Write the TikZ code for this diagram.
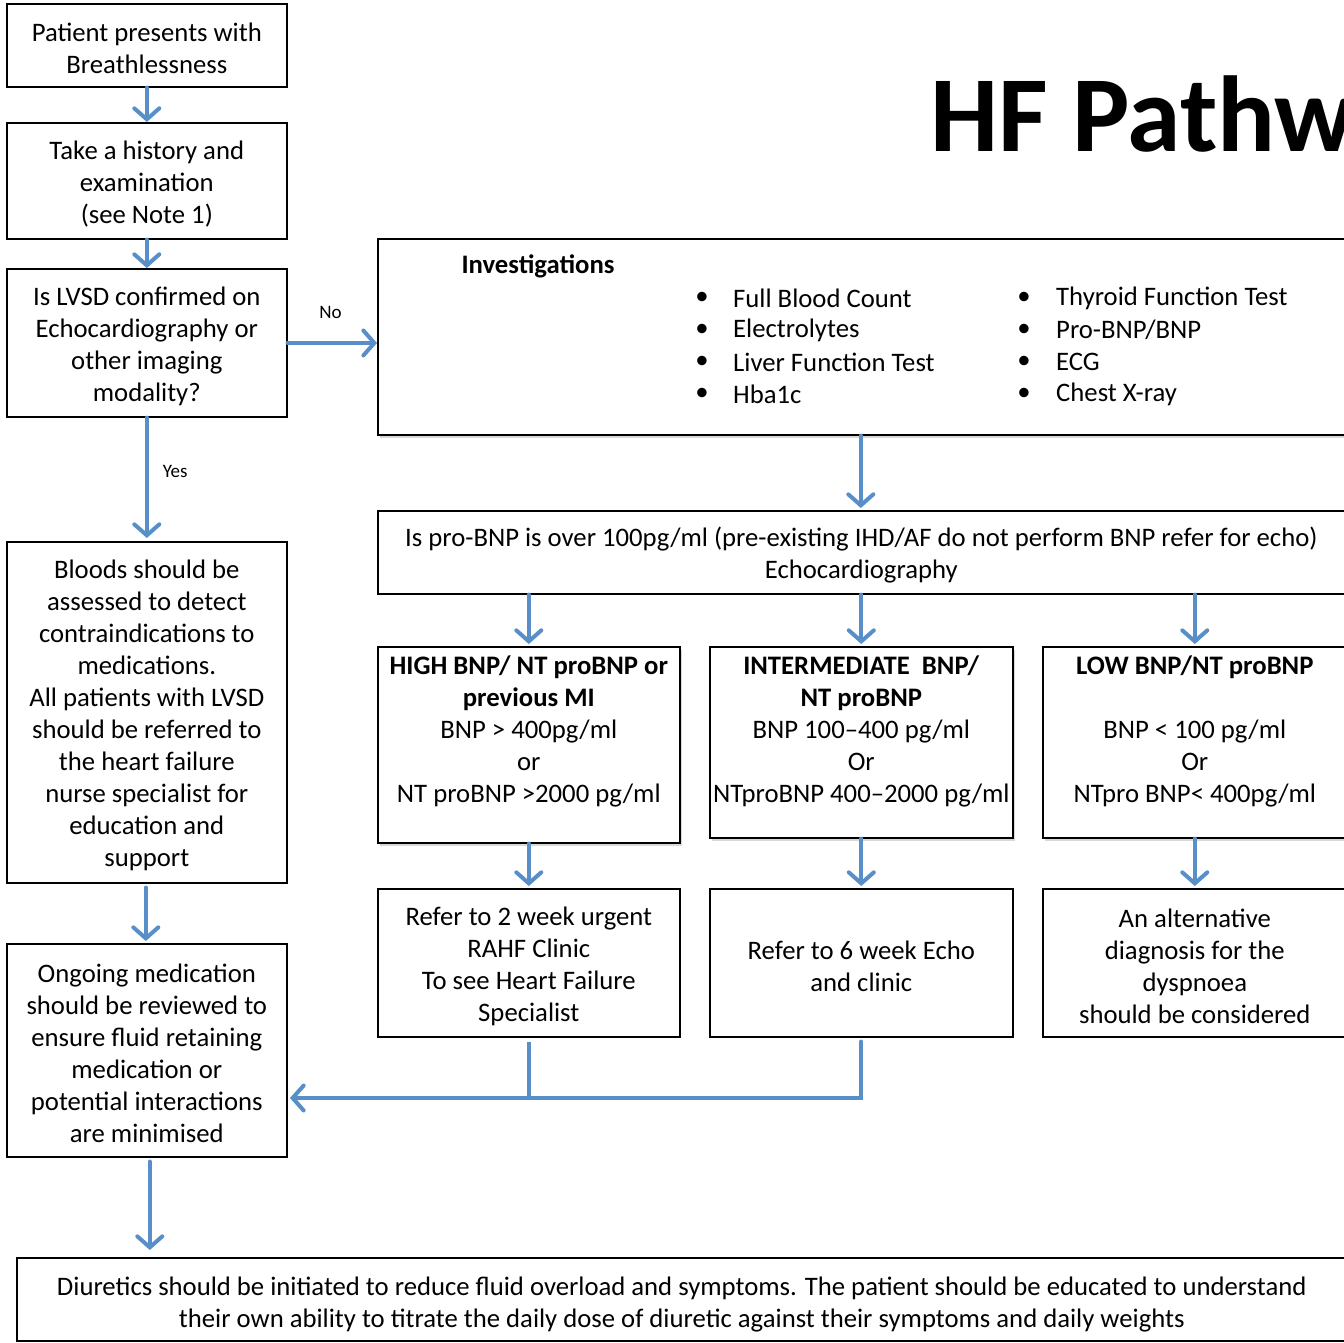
\documentclass[tikz,border=0pt]{standalone}
\usepackage{fontspec}
\setmainfont{Carlito}
\usetikzlibrary{arrows.meta,shadows}
\definecolor{arrowblue}{RGB}{88,143,201}
\newcommand{\topstrut}{\rule{0pt}{25pt}}
\tikzset{
  x=1pt, y=-1pt,
  box/.style={draw=black, line width=1.6pt, inner sep=0pt, anchor=north west, align=center,
              font=\fontsize{26.7}{32}\selectfont, fill=white},
  shbox/.style={box, drop shadow={opacity=0.3, shadow xshift=2pt, shadow yshift=-3pt}},
  txt/.style={inner sep=0pt, font=\fontsize{26.7}{32}\selectfont},
  lbl/.style={inner sep=0pt, font=\fontsize{19}{22}\selectfont},
  flow/.style={draw=arrowblue, line width=4pt, line cap=round,
               -{Straight Barb[length=11pt,width=25pt,line width=4pt,line cap=round]}},
  flowline/.style={draw=arrowblue, line width=4pt}
}
\begin{document}
\begin{tikzpicture}
\useasboundingbox (0,0) rectangle (1344,1343);
\clip (0,0) rectangle (1344,1343);
\fill[white] (0,0) rectangle (1344,1343);

% title
\node[inner sep=0pt, anchor=base west, font=\fontsize{108}{120}\selectfont\bfseries] (title) at (930,152) {HF Pathway};

% left column
\node[box, minimum width=280pt, minimum height=83pt] (b1) at (6,3)
  {\topstrut Patient presents with\\Breathlessness};
\node[box, minimum width=280pt, minimum height=116pt] (b2) at (6,122)
  {\topstrut Take a history and\\examination\\(see Note 1)};
\node[box, minimum width=280pt, minimum height=148pt] (b3) at (6,268)
  {\topstrut Is LVSD confirmed on\\Echocardiography or\\other imaging\\modality?};
\node[box, minimum width=280pt, minimum height=341pt] (b4) at (6,541)
  {\topstrut Bloods should be\\assessed to detect\\contraindications to\\medications.\\All patients with LVSD\\should be referred to\\the heart failure\\nurse specialist for\\education and\\support};
\node[box, minimum width=280pt, minimum height=213pt] (b5) at (6,943)
  {\topstrut Ongoing medication\\should be reviewed to\\ensure fluid retaining\\medication or\\potential interactions\\are minimised};
\node[box, minimum width=1330pt, minimum height=83pt] (bot) at (16,1257)
  {\rule{0pt}{28pt}Diuretics should be initiated to reduce fluid overload and symptoms. The patient should be educated to understand\\their own ability to titrate the daily dose of diuretic against their symptoms and daily weights};

% investigations
\node[shbox, minimum width=969pt, minimum height=196pt] (inv) at (377,238) {};
\node[txt, font=\fontsize{26.7}{32}\selectfont\bfseries] (invt) at (538,266) {Investigations};
\foreach \t [count=\i] in {Full Blood Count, Electrolytes, Liver Function Test, Hba1c}{
  \node[txt] (bl\i) at (702,{266+32*\i}) {•};
  \node[txt, anchor=west] (il\i) at (733,{266+32*\i}) {\t};
}
\foreach \t [count=\i] in {Thyroid Function Test, Pro-BNP/BNP, ECG, Chest X-ray}{
  \node[txt] (br\i) at (1024,{266+32*\i}) {•};
  \node[txt, anchor=west] (ir\i) at (1056,{266+32*\i}) {\t};
}

\node[box, minimum width=967pt, minimum height=83pt] (pro) at (377,510)
  {\topstrut Is pro-BNP is over 100pg/ml (pre-existing IHD/AF do not perform BNP refer for echo)\\Echocardiography};

\node[shbox, minimum width=302pt, minimum height=196pt] (high) at (377,646)
  {\textbf{HIGH BNP/ NT proBNP or}\\\textbf{previous MI}\\BNP > 400pg/ml\\or\\NT proBNP >2000 pg/ml\\\mbox{}};
\node[shbox, minimum width=303pt, minimum height=191pt] (int) at (709,646)
  {\topstrut\textbf{INTERMEDIATE\ \ BNP/}\\\textbf{NT proBNP}\\BNP 100–400 pg/ml\\Or\\NTproBNP 400–2000 pg/ml\\\mbox{}};
\node[shbox, minimum width=304pt, minimum height=191pt] (low) at (1042,646)
  {\topstrut\textbf{LOW BNP/NT proBNP}\\\mbox{}\\BNP < 100 pg/ml\\Or\\NTpro BNP< 400pg/ml\\\mbox{}};

\node[box, minimum width=302pt, minimum height=148pt] (r2) at (377,888)
  {\topstrut Refer to 2 week urgent\\RAHF Clinic\\To see Heart Failure\\Specialist};
\node[box, minimum width=303pt, minimum height=148pt] (r6) at (709,888)
  {\topstrut Refer to 6 week Echo\\and clinic};
\node[box, minimum width=304pt, minimum height=148pt] (alt) at (1042,888)
  {\topstrut An alternative\\diagnosis for the\\dyspnoea\\should be considered};

% connectors
\draw[flow] (b1.south) -- (b2.north);
\draw[flow] (b2.south) -- (b3.north);
\draw[flow] (b3.east |- 0,343) -- (inv.west |- 0,343)
  node[lbl, pos=0.48, above=22pt] (no) {No};
\draw[flow] (b3.south) -- ([yshift=3pt]b4.north)
  node[lbl, pos=0.45, right=14pt] (yes) {Yes};
\draw[flow] ([xshift=-1pt,yshift=-4pt]b4.south) -- ([xshift=-1pt,yshift=2pt]b5.north);
\draw[flow] ([xshift=3pt,yshift=-4pt]b5.south) -- ([xshift=3pt,yshift=7pt]b5.south |- bot.north);

\draw[flow] ([xshift=-1.5pt]inv.south) -- ([xshift=-1.5pt,yshift=2pt]inv.south |- pro.north);
\draw[flow] (high.north |- pro.south) -- ([yshift=2pt]high.north);
\draw[flow] (int.north |- pro.south) -- ([yshift=2pt]int.north);
\draw[flow] (low.north |- pro.south) -- ([yshift=2pt]low.north);
\draw[flow] (high.south) -- ([yshift=2pt]r2.north);
\draw[flow] (int.south) -- ([yshift=2pt]r6.north);
\draw[flow] (low.south) -- ([yshift=2pt]alt.north);

\coordinate (mrg) at (290,1098);
\draw[flowline] ([yshift=-4pt]r2.south) -- (r2.south |- mrg);
\draw[flow] ([yshift=-4pt]r6.south) -- (r6.south |- mrg) -- (mrg);
\end{tikzpicture}
\end{document}
